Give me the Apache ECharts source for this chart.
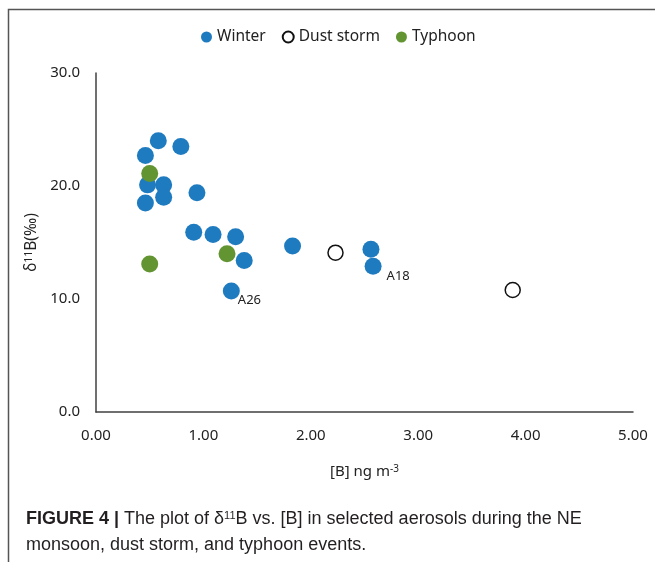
<!DOCTYPE html>
<html>
<head>
<meta charset="utf-8">
<script src="https://cdn.jsdelivr.net/npm/echarts@6/dist/echarts.min.js"></script>
<style>
  html, body { margin: 0; padding: 0; background: #fff; }
  #chart { width: 655px; height: 562px; }
</style>
</head>
<body>
<div id="chart"></div>
<script>
// [B] (ng m-3) and d11B (permil)
const winterB = [0.58, 0.79, 0.46, 0.48, 0.63, 0.63, 0.46, 0.94, 0.91, 1.09, 1.30, 1.38, 1.26, 1.83, 2.56, 2.58]
const winterD11B = [24.0, 23.5, 22.7, 20.1, 20.1, 19.0, 18.5, 19.4, 15.9, 15.7, 15.5, 13.4, 10.7, 14.7, 14.4, 12.9]
const winterTags = ['', '', '', '', '', '', '', '', '', '', '', '', 'A26', '', '', 'A18']

const dustB = [2.23, 3.88]
const dustD11B = [14.1, 10.8]

const typhoonB = [0.50, 1.22, 0.50]
const typhoonD11B = [21.1, 14.0, 13.1]

const seriesNames = ['Winter', 'Dust storm', 'Typhoon']
const xTicks = [0, 1, 2, 3, 4, 5]
const yTicks = [0, 10, 20, 30]

const captionLine1 = ['FIGURE 4 | ', 'The plot of δ', '11', 'B vs. [B] in selected aerosols during the NE']
const captionLine2 = 'monsoon, dust storm, and typhoon events.'

const blue = '#1f7bc0'
const green = '#629432'
const axisColor = '#404040'

const zip = (xs, ys) => xs.map((x, i) => [x, ys[i]])

const winterData = winterB.map((x, i) => {
  const item = { value: [x, winterD11B[i]] }
  if (winterTags[i]) {
    item.label = {
      show: true,
      formatter: winterTags[i],
      position: winterTags[i] === 'A26' ? [15, 18] : [22, 19],
      align: 'left',
      verticalAlign: 'middle',
      color: '#222',
      fontSize: 13,
      fontFamily: 'Noto Sans'
    }
  }
  return item
})

const myChart = echarts.init(document.getElementById('chart'), null, { renderer: 'canvas' })

const option = {
  backgroundColor: '#fff',
  animation: false,
  legend: {
    data: seriesNames,
    top: 24,
    left: 196,
    icon: 'circle',
    itemWidth: 11,
    itemHeight: 11,
    itemGap: 16,
    textStyle: { fontFamily: 'Noto Sans', fontSize: 15.5, color: '#222' }
  },
  grid: {
    left: 96,
    right: 22,
    top: 73,
    bottom: 150
  },
  xAxis: {
    type: 'value',
    min: xTicks[0],
    max: xTicks[xTicks.length - 1],
    interval: 1,
    name: '[B] ng m{sup|-3}',
    nameLocation: 'middle',
    nameGap: 52,
    nameTextStyle: {
      fontFamily: 'Noto Sans',
      fontSize: 15,
      color: '#222',
      rich: {
        sup: { fontSize: 10, verticalAlign: 'top', fontFamily: 'Noto Sans', color: '#222' }
      }
    },
    axisLine: { show: true, lineStyle: { color: axisColor, width: 1.5 } },
    axisTick: { show: false },
    splitLine: { show: false },
    axisLabel: {
      margin: 16,
      fontFamily: 'Noto Sans',
      fontSize: 15,
      color: '#222',
      formatter: (v) => v.toFixed(2)
    }
  },
  yAxis: {
    type: 'value',
    min: yTicks[0],
    max: yTicks[yTicks.length - 1],
    interval: 10,
    name: 'δ{sup|11}B(‰)',
    nameLocation: 'middle',
    nameRotate: 90,
    nameGap: 55,
    nameTextStyle: {
      fontFamily: 'Noto Sans',
      fontSize: 15.5,
      color: '#222',
      rich: {
        sup: { fontSize: 10.5, verticalAlign: 'top', fontFamily: 'Noto Sans', color: '#222' }
      }
    },
    axisLine: { show: true, lineStyle: { color: axisColor, width: 1.5 } },
    axisTick: { show: false },
    splitLine: { show: false },
    axisLabel: {
      margin: 16,
      fontFamily: 'Noto Sans',
      fontSize: 15,
      color: '#222',
      formatter: (v) => v.toFixed(1)
    }
  },
  series: [
    {
      name: seriesNames[0],
      type: 'scatter',
      symbol: 'circle',
      symbolSize: 17,
      itemStyle: { color: blue, opacity: 1 },
      data: winterData,
      z: 3
    },
    {
      name: seriesNames[1],
      type: 'scatter',
      symbol: 'circle',
      symbolSize: 15,
      itemStyle: { color: '#fff', borderColor: '#111', borderWidth: 1.5, opacity: 1 },
      data: zip(dustB, dustD11B),
      z: 2
    },
    {
      name: seriesNames[2],
      type: 'scatter',
      symbol: 'circle',
      symbolSize: 17,
      itemStyle: { color: green, opacity: 1 },
      data: zip(typhoonB, typhoonD11B),
      z: 4
    }
  ],
  graphic: [
    {
      type: 'rect',
      shape: { x: 8.5, y: 9.5, width: 700, height: 600 },
      style: { fill: 'none', stroke: '#555', lineWidth: 1.5 },
      silent: true
    },
    {
      type: 'text',
      left: 26,
      top: 510,
      style: {
        text: '{b|' + captionLine1[0] + '}' + captionLine1[1] + '{sup|' + captionLine1[2] + '}' + captionLine1[3],
        fontFamily: 'Liberation Sans',
        fontSize: 18,
        fill: '#231f20',
        rich: {
          b: { fontWeight: 'bold', fontFamily: 'Liberation Sans', fontSize: 18, fill: '#231f20' },
          sup: { fontSize: 11, verticalAlign: 'top', fontFamily: 'Liberation Sans', fill: '#231f20' }
        }
      }
    },
    {
      type: 'text',
      left: 26,
      top: 536,
      style: {
        text: captionLine2,
        fontFamily: 'Liberation Sans',
        fontSize: 18,
        fill: '#231f20'
      }
    }
  ]
}

myChart.setOption(option)
</script>
</body>
</html>
